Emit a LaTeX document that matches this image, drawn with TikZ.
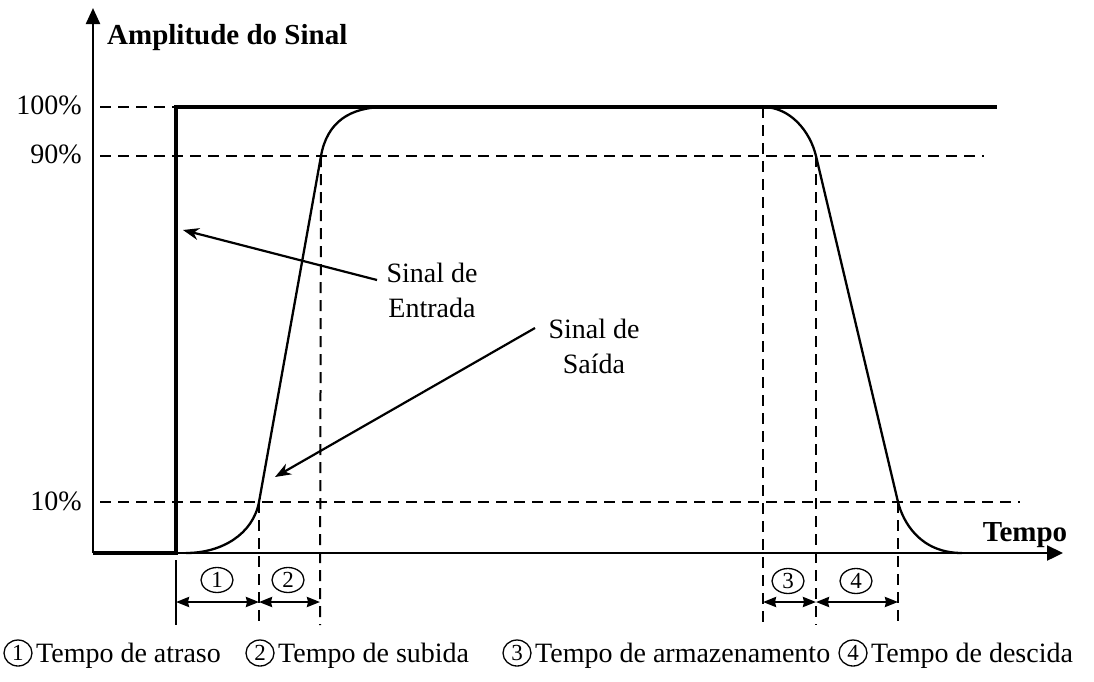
\documentclass[tikz,border=0pt]{standalone}
\usepackage{fontspec}
\setmainfont{Liberation Serif}
\usetikzlibrary{arrows.meta,shapes.geometric}
\begin{document}
\begin{tikzpicture}[x=1pt,y=-1pt,
  axisline/.style={line width=2.3pt},
  insig/.style={line width=4.5pt, line join=miter},
  outsig/.style={line width=2.3pt},
  guide/.style={line width=2pt, dash pattern=on 11pt off 7pt},
  dimline/.style={line width=1.5pt},
  dimarrow/.style={line width=2.2pt, {Stealth[length=13pt,width=10pt,inset=1pt]}-{Stealth[length=13pt,width=10pt,inset=1pt]}},
  callout/.style={line width=2.2pt, -{Stealth[length=16pt,width=12pt,inset=5pt]}},
  lbl/.style={font=\fontsize{28}{35}\selectfont, inner sep=0pt},
  blbl/.style={font=\fontsize{29}{35}\selectfont\bfseries, inner sep=0pt},
  circnum/.style={draw, ellipse, line width=1.3pt, minimum width=32pt, minimum height=25pt, inner sep=0pt, font=\fontsize{23}{23}\selectfont}
]
\useasboundingbox (0,0) rectangle (1094,681);

% key coordinates
\coordinate (origin) at (93,553);
\coordinate (ytip) at (93,8);
\coordinate (xtip) at (1063,553);
\coordinate (i0) at (93,553);
\coordinate (i1) at (176,553);
\coordinate (i2) at (176,107);
\coordinate (i3) at (997,107);
\coordinate (o0) at (186,553);
\coordinate (o1) at (259,502);
\coordinate (o2) at (321,156);
\coordinate (o3) at (385,107);
\coordinate (o4) at (763,107);
\coordinate (o5) at (816,156);
\coordinate (o6) at (898,502);
\coordinate (o7) at (962,553);

% horizontal guides
\coordinate (h100a) at (100,107); \coordinate (h100b) at (176,107);
\coordinate (h90a) at (100,156);  \coordinate (h90b) at (984,156);
\coordinate (h10a) at (100,502);  \coordinate (h10b) at (1020,502);
\draw[guide] (h100a) -- (h100b);
\draw[guide] (h90a) -- (h90b);
\draw[guide] (h10a) -- (h10b);

% vertical guides and dimension lines
\coordinate (d0) at (176,625); \coordinate (d0t) at (176,560);
\coordinate (d1) at (259,625);
\coordinate (d2) at (320,625);
\coordinate (d3) at (763,625);
\coordinate (d4) at (816,625);
\coordinate (d5) at (898,625);
\draw[guide] (o1) -- (d1);
\draw[guide] (o2) -- (d2);
\draw[guide] (o4) -- (d3);
\draw[guide] (o5) -- (d4);
\draw[guide] (o6) -- (d5);
\draw[dimline] (d0t) -- (d0);

\coordinate (a0) at (176,602); \coordinate (a1) at (259,602); \coordinate (a2) at (320,602);
\coordinate (a3) at (763,602); \coordinate (a4) at (816,602); \coordinate (a5) at (898,602);
\draw[dimarrow] (a0) -- (a1);
\draw[dimarrow] (a1) -- (a2);
\draw[dimarrow] (a3) -- (a4);
\draw[dimarrow] (a4) -- (a5);

\node[circnum] (n1) at (217,580) {1};
\node[circnum] (n2) at (288,580) {2};
\node[circnum] (n3) at (788,581) {3};
\node[circnum] (n4) at (856,581) {4};

% axes
\draw[axisline,-{Triangle[length=16pt,width=14pt]}] (origin) -- (ytip);
\draw[axisline,-{Triangle[length=16pt,width=15pt]}] (origin) -- (xtip);

% output signal
\draw[outsig] (o0) .. controls (222,553) and (253,534) .. (o1) -- (o2)
  .. controls (327,122) and (350,107) .. (o3) -- (o4)
  .. controls (790,107) and (810,131) .. (o5) -- (o6)
  .. controls (903,522) and (920,553) .. (o7);

% input signal
\draw[insig] (i0) -- (i1) -- (i2) -- (i3);

% axis labels
\node[blbl, anchor=west] (ylab) at (107,38) {Amplitude do Sinal};
\node[blbl] (xlab) at (1025,535) {Tempo};
\node[lbl, anchor=east] (p100) at (82,105) {100\%};
\node[lbl, anchor=east] (p90) at (82,154) {90\%};
\node[lbl, anchor=east] (p10) at (82,501) {10\%};

% callouts
\node[lbl, align=center] (ent) at (432,290) {Sinal de\\Entrada};
\node[lbl, align=center] (sai) at (594,346) {Sinal de\\Saída};
\coordinate (entS) at (377,280);
\coordinate (entT) at (183,230);
\coordinate (saiS) at (535,328);
\coordinate (saiT) at (275,477);
\draw[callout] (entS) -- (entT);
\draw[callout] (saiS) -- (saiT);

% legend
\tikzset{lcirc/.style={circnum, minimum width=28pt, minimum height=26pt}}
\node[lcirc] (l1) at (18,653) {1};
\node[lbl, anchor=base west] (t1) at (36,662) {Tempo de atraso};
\node[lcirc] (l2) at (260,653) {2};
\node[lbl, anchor=base west] (t2) at (278,662) {Tempo de subida};
\node[lcirc] (l3) at (517,653) {3};
\node[lbl, anchor=base west] (t3) at (535,662) {Tempo de armazenamento};
\node[lcirc] (l4) at (853,653) {4};
\node[lbl, anchor=base west] (t4) at (871,662) {Tempo de descida};
\end{tikzpicture}
\end{document}
